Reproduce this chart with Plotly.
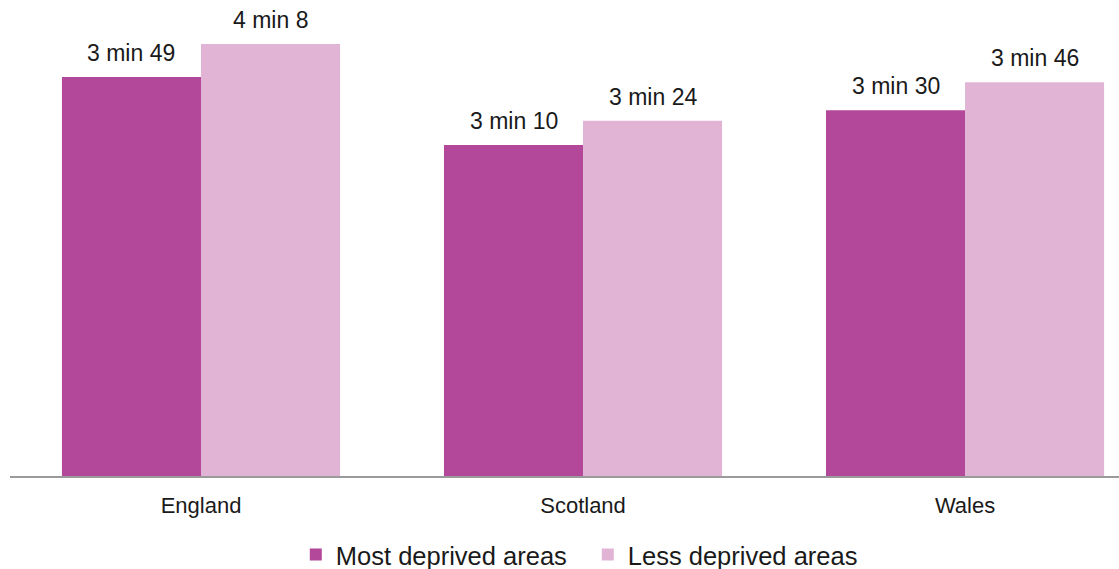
import plotly.graph_objects as go

countries = ["England", "Scotland", "Wales"]
most_deprived = [229, 190, 210]   # seconds
less_deprived = [248, 204, 226]   # seconds
series_names = ["Most deprived areas", "Less deprived areas"]
colors = ["#B3479A", "#E1B3D5"]

def fmt(s):
    return f"{s // 60} min {s % 60}"

FONT = "Liberation Sans, Arial, sans-serif"
BARGAP = 0.272
half = (1 - BARGAP) / 4  # offset of each bar centre from the category centre
xs = list(range(len(countries)))

fig = go.Figure()
for name, vals, col in zip(series_names, [most_deprived, less_deprived], colors):
    fig.add_trace(go.Bar(x=xs, y=vals, name=name, marker=dict(color=col, line=dict(width=0)),
                         hoverinfo="skip"))

annotations = []
for i, (a, b) in enumerate(zip(most_deprived, less_deprived)):
    for off, v in ((-half, a), (half, b)):
        annotations.append(dict(x=i + off, y=v, text=fmt(v), showarrow=False,
                                yanchor="bottom", yshift=9,
                                font=dict(size=23, color="#1a1a1a", family=FONT)))

fig.update_layout(
    width=1119, height=580,
    margin=dict(l=10, r=0, t=0, b=104),
    paper_bgcolor="white", plot_bgcolor="white",
    barmode="group", bargap=BARGAP, bargroupgap=0,
    font=dict(family=FONT, size=22, color="#1a1a1a"),
    showlegend=True,
    legend=dict(orientation="h", x=0.521, xanchor="center", y=-0.166, yanchor="middle",
                font=dict(size=25.5), traceorder="normal", itemclick=False,
                entrywidth=247, entrywidthmode="pixels"),
    annotations=annotations,
    xaxis=dict(tickmode="array", tickvals=xs, ticktext=countries,
               range=[-0.5, 2.403], showgrid=False, zeroline=False,
               showline=True, linecolor="#9a9a9a", linewidth=1.5,
               ticks="", ticklabelstandoff=9, fixedrange=True),
    yaxis=dict(range=[0, 273.25], visible=False, showgrid=False, zeroline=False, fixedrange=True),
)

fig.write_html("out.html", config={"displayModeBar": False},
               post_script="document.body.style.margin='0px';")
